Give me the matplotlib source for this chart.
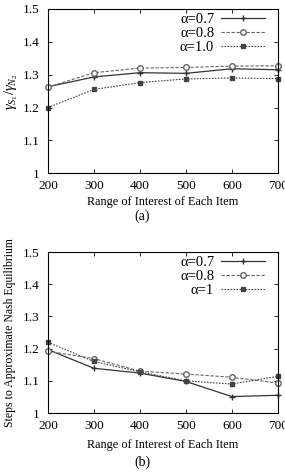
import matplotlib
matplotlib.use("Agg")
import matplotlib.pyplot as plt

plt.rcParams['font.family'] = ['Liberation Serif', 'DejaVu Serif']
plt.rcParams['mathtext.fontset'] = 'custom'
plt.rcParams['mathtext.rm'] = 'Liberation Serif'
plt.rcParams['mathtext.it'] = 'Liberation Serif:italic'

ranges = [200, 300, 400, 500, 600, 700]

# (a) ratio gamma_S1 / gamma_N2
ratio_a07 = [1.263, 1.293, 1.306, 1.304, 1.318, 1.315]
ratio_a08 = [1.262, 1.306, 1.320, 1.322, 1.326, 1.327]
ratio_a10 = [1.200, 1.255, 1.276, 1.287, 1.290, 1.288]

# (b) steps to approximate Nash equilibrium
steps_a07 = [1.197, 1.139, 1.124, 1.098, 1.051, 1.055]
steps_a08 = [1.192, 1.169, 1.130, 1.121, 1.111, 1.093]
steps_a10 = [1.220, 1.160, 1.128, 1.100, 1.090, 1.114]

labels_a = ['α=0.7', 'α=0.8', 'α=1.0']
labels_b = ['α=0.7', 'α=0.8', 'α=1']

styles = [
    dict(color='#333333', linestyle='-', marker='+', markersize=5, lw=0.9),
    dict(color='#666666', linestyle=(0, (3, 1.5)), marker='o', markersize=4,
         markerfacecolor='white', lw=0.8),
    dict(color='#444444', linestyle=(0, (1.5, 1.2)), marker='s', markersize=3,
         lw=0.8),
]

fig = plt.figure(figsize=(2.85, 4.72), dpi=100)
ax1 = fig.add_axes([0.168, 0.633, 0.807, 0.348])
ax2 = fig.add_axes([0.168, 0.125, 0.807, 0.341])


def style_axes(ax):
    ax.set_xlim(200, 700)
    ax.set_ylim(1, 1.5)
    ax.set_xticks(ranges)
    ax.set_yticks([1, 1.1, 1.2, 1.3, 1.4, 1.5])
    ax.set_yticklabels(['1', '1.1', '1.2', '1.3', '1.4', '1.5'])
    ax.tick_params(direction='in', top=True, right=True, labelsize=9.5,
                   length=3, width=0.6)
    ax.tick_params(axis='y', pad=6)
    ax.tick_params(axis='x', pad=5)
    for s in ax.spines.values():
        s.set_linewidth(0.8)
    ax.set_xlabel('Range of Interest of Each Item', fontsize=8.8, labelpad=3)


def add_legend(ax):
    ax.legend(loc='upper right', bbox_to_anchor=(0.945, 0.975),
              markerfirst=False, frameon=False, fontsize=10.5,
              handlelength=3.0, handletextpad=0.5, labelspacing=0.05,
              borderaxespad=0.0, borderpad=0.0)


for ys, lab, st in zip([ratio_a07, ratio_a08, ratio_a10], labels_a, styles):
    ax1.plot(ranges, ys, label=lab, clip_on=False, **st)
style_axes(ax1)
ax1.set_ylabel(r'$\gamma_{S_1}/\gamma_{N_2}$', fontsize=10.5, labelpad=2)
add_legend(ax1)

for ys, lab, st in zip([steps_a07, steps_a08, steps_a10], labels_b, styles):
    ax2.plot(ranges, ys, label=lab, clip_on=False, **st)
style_axes(ax2)
ax2.xaxis.labelpad = 5
ax2.set_ylabel('Steps to Approximate Nash Equilibrium', fontsize=8.5,
               labelpad=5)
add_legend(ax2)

fig.text(0.5, 1 - 216 / 472, '(a)', ha='center', va='center', fontsize=10)
fig.text(0.5, 1 - 462 / 472, '(b)', ha='center', va='center', fontsize=10)

fig.savefig('out.png', dpi=100)
